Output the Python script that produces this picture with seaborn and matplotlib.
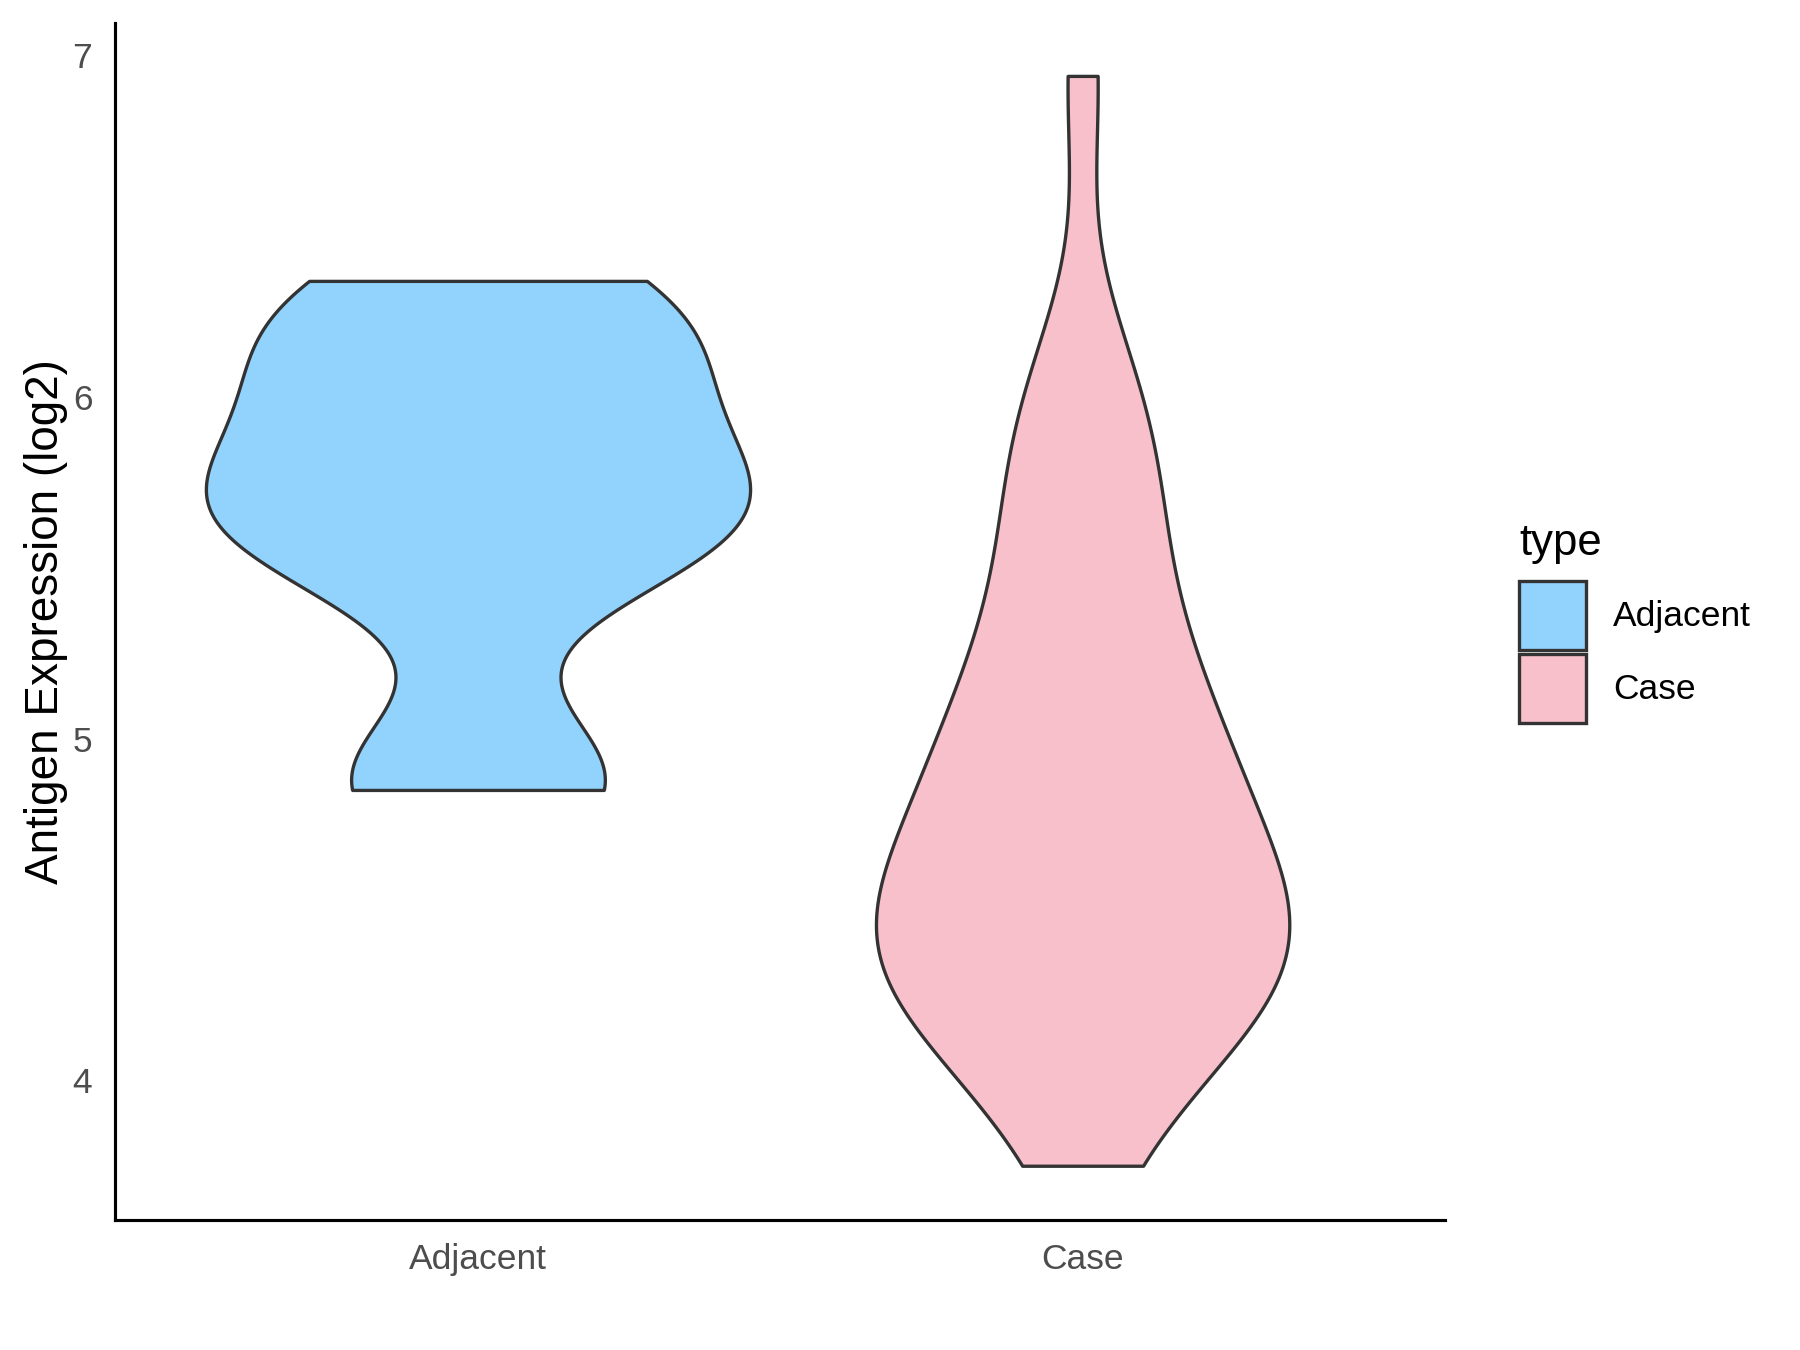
import numpy as np
import pandas as pd
import matplotlib
matplotlib.use("Agg")
import matplotlib.pyplot as plt
import seaborn as sns

# values (log2 antigen expression)
adjacent_vals = [4.85, 4.85, 4.92, 5.50, 5.55, 5.60, 5.66, 5.72, 5.80, 5.90,
                 6.03, 6.12, 6.22, 6.31, 6.34]
case_vals = [3.75, 3.95, 4.08, 4.16, 4.22, 4.26, 4.30, 4.33, 4.36, 4.39, 4.42,
             4.45, 4.49, 4.55, 4.62, 4.70, 4.77, 4.84, 4.90, 4.96, 5.02, 5.09,
             5.18, 5.30, 5.43, 5.57, 5.71, 5.84, 5.97, 6.10, 6.94]
groups = ["Adjacent", "Case"]
colors = ["#92D3FE", "#F7C0CB"]

df = pd.DataFrame({
    "type": ["Adjacent"] * len(adjacent_vals) + ["Case"] * len(case_vals),
    "value": adjacent_vals + case_vals,
})


def nrd0(kde):
    # R's default bandwidth rule, as a factor of the sample sd
    x = np.asarray(kde.dataset).ravel()
    sd = x.std(ddof=1)
    iqr = np.subtract(*np.percentile(x, [75, 25]))
    h = 0.9 * min(sd, iqr / 1.34) * len(x) ** -0.2
    return h / sd


sns.set_style("white")
plt.rcParams["font.family"] = ["Liberation Sans", "DejaVu Sans"]

fig = plt.figure(figsize=(12, 9), dpi=150)
ax = fig.add_axes([0.064, 0.096, 0.739, 0.887])

sns.violinplot(data=df, x="type", y="value", hue="type", order=groups,
               hue_order=groups, palette=colors, density_norm="area",
               common_norm=True, cut=0, width=0.9, inner=None, linewidth=1.6,
               linecolor="#333333", bw_method=nrd0, gridsize=512, saturation=1,
               legend=False, ax=ax)

ax.set_xlim(-0.6, 1.6)
ax.set_ylim(3.59, 7.095)
ax.set_yticks([4, 5, 6, 7])
ax.set_xlabel("")
ax.set_ylabel("Antigen Expression (log2)", fontsize=22, color="black", labelpad=2)
ax.tick_params(axis="both", labelsize=17, colors="#4D4D4D", length=6, width=1.2,
               direction="out", pad=5)
ax.tick_params(axis="both", color="#333333")
sns.despine(ax=ax)
for side in ["left", "bottom"]:
    ax.spines[side].set_color("black")
    ax.spines[side].set_linewidth(1.5)

handles = [plt.Rectangle((0, 0), 1, 1, facecolor=c, edgecolor="#333333", linewidth=1.6)
           for c in colors]
leg = fig.legend(handles, groups, loc="upper left", bbox_to_anchor=(0.834, 0.626),
                 title="type", frameon=False, fontsize=17, title_fontsize=21,
                 handlelength=1.9, handleheight=2.6, labelspacing=0.12,
                 handletextpad=0.75, borderpad=0, alignment="left",
                 labelcolor="black")
leg.get_title().set_color("black")
leg._legend_box.sep = 8.5  # extra gap under the legend title

fig.savefig("out.png", dpi=150)
